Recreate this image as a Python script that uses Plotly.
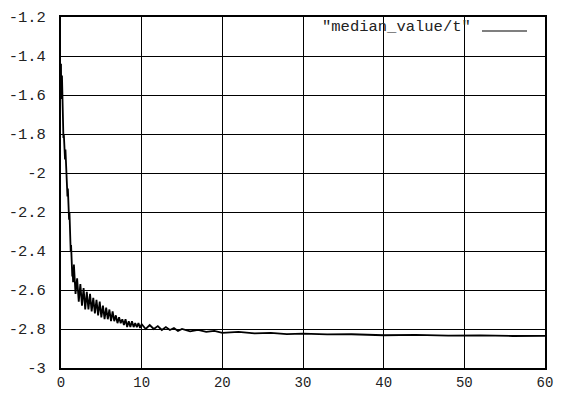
import plotly.graph_objects as go

# time axis values and median value readings
t_vals = [0, 0.03, 0.06, 0.09, 0.12, 0.16, 0.2, 0.25, 0.3, 0.35, 0.4, 0.45, 0.5, 0.55, 0.6,
          0.65, 0.7, 0.75, 0.8, 0.85, 0.9, 0.95, 1.0, 1.05, 1.1, 1.15, 1.2, 1.25, 1.3, 1.35,
          1.4, 1.45, 1.5,
          1.6, 1.8, 2.0, 2.2, 2.4, 2.6, 2.8, 3.0, 3.2, 3.4, 3.6, 3.8, 4.0, 4.2, 4.4, 4.6,
          4.8, 5.0, 5.2, 5.4, 5.6, 5.8, 6.0, 6.2, 6.4, 6.6, 6.8, 7.0, 7.2, 7.4, 7.6, 7.8,
          8.0, 8.2, 8.4, 8.6, 8.8, 9.0, 9.2, 9.4, 9.6, 9.8, 10.0,
          10.5, 11, 11.5, 12, 12.5, 13, 13.5, 14, 14.5, 15, 16, 17, 18, 19, 20,
          22, 24, 26, 28, 30, 33, 36, 40, 44, 48, 52, 56, 60]
median_vals = [-1.44, -1.62, -1.47, -1.60, -1.50, -1.64, -1.68, -1.76, -1.82, -1.80, -1.88,
               -1.85, -1.93, -1.88, -1.95, -1.97, -2.02, -2.06, -2.12, -2.08, -2.15, -2.18,
               -2.24, -2.20, -2.30, -2.34, -2.40, -2.37, -2.45, -2.48, -2.53, -2.50, -2.56,
               -2.47, -2.62, -2.54, -2.66, -2.57, -2.68, -2.59, -2.70, -2.61, -2.70, -2.62,
               -2.71, -2.64, -2.72, -2.65, -2.73, -2.66, -2.74, -2.68, -2.75, -2.69, -2.75,
               -2.70, -2.76, -2.71, -2.76, -2.73, -2.77, -2.74, -2.77, -2.75, -2.78, -2.75,
               -2.79, -2.76, -2.79, -2.76, -2.79, -2.77, -2.79, -2.77, -2.795, -2.775,
               -2.80, -2.78, -2.80, -2.785, -2.805, -2.79, -2.805, -2.795, -2.81, -2.80,
               -2.812, -2.805, -2.815, -2.81, -2.82,
               -2.815, -2.822, -2.82, -2.826, -2.824, -2.828, -2.827, -2.832, -2.83, -2.834,
               -2.833, -2.836, -2.835]

x_ticks = [0, 10, 20, 30, 40, 50, 60]
x_tick_text = ["0", "10", "20", "30", "40", "50", "60"]
y_ticks = [-3, -2.8, -2.6, -2.4, -2.2, -2, -1.8, -1.6, -1.4, -1.2]
y_tick_text = ["-3", "-2.8", "-2.6", "-2.4", "-2.2", "-2", "-1.8", "-1.6", "-1.4", "-1.2"]
legend_label = '"median_value/t"'

FONT = "Liberation Mono, DejaVu Sans Mono, monospace"
FSIZE = 15.5

fig = go.Figure()
fig.add_trace(go.Scatter(x=t_vals, y=median_vals, mode="lines",
                         line=dict(color="black", width=1.8), showlegend=False))

axis_common = dict(showgrid=True, gridcolor="black", gridwidth=1, automargin=False,
                   showline=True, linecolor="black", linewidth=2, mirror=True,
                   zeroline=False, ticks="")

fig.update_layout(
    width=561, height=395,
    margin=dict(l=61, r=16, t=17, b=27),
    paper_bgcolor="white", plot_bgcolor="white",
    xaxis=dict(range=[0, 60], tickvals=x_ticks, ticktext=x_tick_text,
               ticklabelstandoff=0, tickfont=dict(family=FONT, size=14, color="#222"),
               **axis_common),
    yaxis=dict(range=[-3, -1.2], tickvals=y_ticks, ticktext=y_tick_text,
               ticklabelstandoff=10, tickfont=dict(family=FONT, size=FSIZE, color="#222"),
               **axis_common),
)

fig.add_annotation(xref="paper", yref="paper", x=(473 - 61) / 484, y=1 - (27 - 17) / 351,
                   xanchor="right", yanchor="middle", text=legend_label, showarrow=False,
                   font=dict(family=FONT, size=FSIZE, color="#222"))
fig.add_shape(type="line", xref="paper", yref="paper",
              x0=(482 - 61) / 484, x1=(527 - 61) / 484,
              y0=1 - (31 - 17) / 351, y1=1 - (31 - 17) / 351,
              line=dict(color="black", width=1.2))

fig.write_html("out.html")
